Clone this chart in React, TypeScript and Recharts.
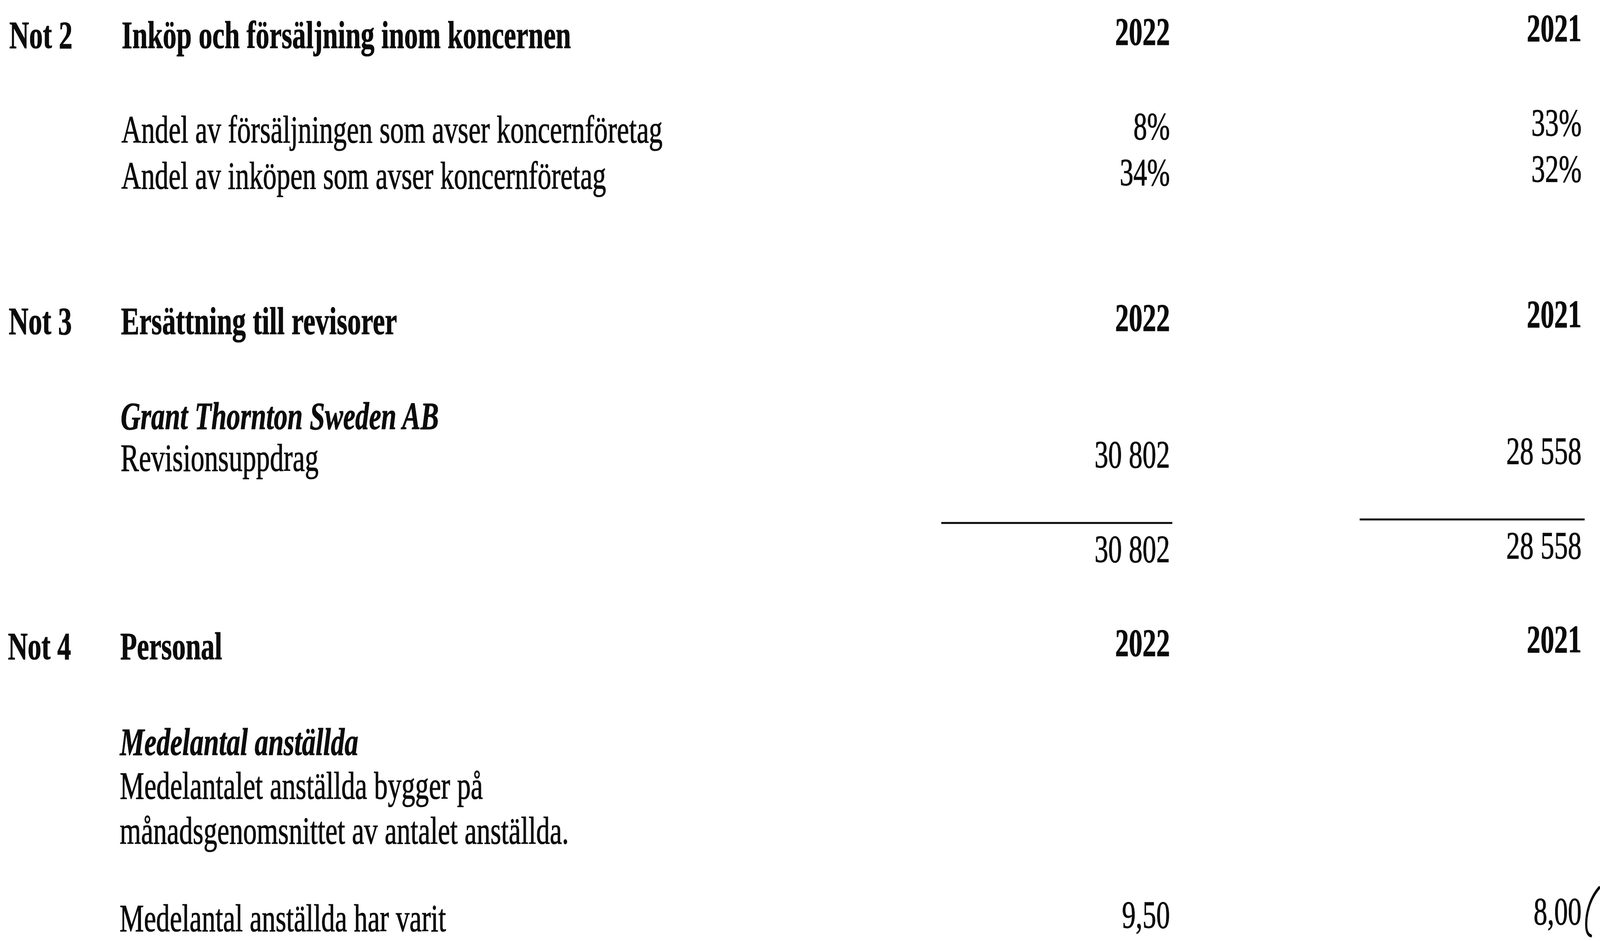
import { ScatterChart, Scatter, XAxis, YAxis, ReferenceLine } from 'recharts';

// page size of the scanned note page
const W = 5837;
const H = 2408;

// headings of the three notes
const noteNumbers = ['Not 2', 'Not 3', 'Not 4'];
const noteTitles = ['Inköp och försäljning inom koncernen', 'Ersättning till revisorer', 'Personal'];
const years = [2022, 2021];

// Not 2 - share of group companies (%)
const shareLabels = ['Andel av försäljningen som avser koncernföretag', 'Andel av inköpen som avser koncernföretag'];
const share2022 = [8, 34];
const share2021 = [33, 32];

// Not 3 - auditor fees (kr)
const auditFirm = ['Grant Thornton Sweden AB'];
const auditLabels = ['Revisionsuppdrag'];
const audit2022 = [30802];
const audit2021 = [28558];

// Not 4 - staff
const staffHeading = ['Medelantal anställda'];
const staffText = ['Medelantalet anställda bygger på', 'månadsgenomsnittet av antalet anställda.'];
const staffLabels = ['Medelantal anställda har varit'];
const staff2022 = [9.5];
const staff2021 = [8.0];

// layout: x in 1/1000 of page width, y in text lines (20 lines per page)
const COL = { note: 5.9, text: 76.1, y2022: 731.2, y2021: 988.5 };
// the scan is a little skewed: value columns sit higher, left columns drift left further down
const LIFT = { note: 0, text: 0, y2022: 0.075, y2021: 0.15 };
const DRIFT = { note: 0.07, text: 0.07, y2022: 0, y2021: 0 };
const RULE = { y2022: [588.3, 732.7], y2021: [849.8, 990.4] };
const LINES = {
  notes: [1.02, 7.1, 14.01],
  share: [3.03, 4.01],
  firm: 9.12,
  audit: 10.01,
  rule: 11.19,
  total: 12.02,
  staffHeading: 16.05,
  staffText: [16.98, 17.93],
  staff: 19.79,
};

const FONT = "'Liberation Serif', 'Times New Roman', serif";
const INK = '#0b0b0b';

const pct = (v: number) => `${v}%`;
const kr = (v: number) => String(v).replace(/\B(?=(\d{3})+(?!\d))/g, ' ');
const dec = (v: number) => v.toFixed(2).replace('.', ',');

type Col = keyof typeof COL;
type Cell = { x: number; y: number; text: string; anchor: string; bold?: boolean; italic?: boolean; check?: boolean };

const cells: Cell[] = [];
const put = (col: Col, line: number, text: string, opts: Partial<Cell> = {}) =>
  cells.push({
    x: COL[col] - DRIFT[col] * line,
    y: line - LIFT[col],
    text,
    anchor: col.startsWith('y') ? 'end' : 'start',
    ...opts,
  });

const yearCols: Col[] = ['y2022', 'y2021'];

noteNumbers.forEach((n, i) => {
  put('note', LINES.notes[i], n, { bold: true });
  put('text', LINES.notes[i], noteTitles[i], { bold: true });
  yearCols.forEach((c, j) => put(c, LINES.notes[i], String(years[j]), { bold: true }));
});

shareLabels.forEach((label, i) => {
  put('text', LINES.share[i], label);
  put('y2022', LINES.share[i], pct(share2022[i]));
  put('y2021', LINES.share[i], pct(share2021[i]));
});

put('text', LINES.firm, auditFirm[0], { bold: true, italic: true });
auditLabels.forEach((label, i) => {
  put('text', LINES.audit, label);
  put('y2022', LINES.audit, kr(audit2022[i]));
  put('y2021', LINES.audit, kr(audit2021[i]));
});
put('y2022', LINES.total, kr(audit2022.reduce((a, b) => a + b, 0)));
put('y2021', LINES.total, kr(audit2021.reduce((a, b) => a + b, 0)));

put('text', LINES.staffHeading, staffHeading[0], { bold: true, italic: true });
staffText.forEach((t, i) => put('text', LINES.staffText[i], t));
staffLabels.forEach((label, i) => {
  put('text', LINES.staff, label);
  put('y2022', LINES.staff, dec(staff2022[i]));
  put('y2021', LINES.staff, dec(staff2021[i]), { check: true });
});

export default function App() {
  // fit the page to the real viewport, keeping the page's proportions per axis
  const vw = typeof window !== 'undefined' ? window.innerWidth : W;
  const vh = typeof window !== 'undefined' ? window.innerHeight : H;
  const sx = vw / W;
  const sy = vh / H;

  const renderCell = (props: any) => {
    const { cx, cy, payload } = props;
    const c = payload as Cell;
    return (
      <g transform={`translate(${cx},${cy}) scale(${sx},${sy})`}>
        <text
          x={0}
          y={0}
          textAnchor={c.anchor as any}
          fontFamily={FONT}
          fontSize={100}
          fontWeight={c.bold ? 'bold' : 'normal'}
          fontStyle={c.italic ? 'italic' : 'normal'}
          fill={INK}
          stroke={INK}
          strokeWidth={1.2}
        >
          {c.text}
        </text>
        {c.check && (
          <path
            d="M 64 -93 C 30 -65, 15 -27, 17 6 C 18 20, 24 28, 34 30"
            fill="none"
            stroke={INK}
            strokeWidth={8}
            strokeLinecap="round"
          />
        )}
      </g>
    );
  };

  return (
    <div style={{ position: 'absolute', left: 0, top: 0, width: vw, height: vh, background: '#fff', overflow: 'hidden' }}>
      <ScatterChart width={vw} height={vh} margin={{ top: 0, right: 0, bottom: 0, left: 0 }}>
        <XAxis type="number" dataKey="x" domain={[0, 1000]} allowDataOverflow hide />
        <YAxis type="number" dataKey="y" domain={[0, 20]} reversed allowDataOverflow hide />
        {yearCols.map((c) => (
          <ReferenceLine
            key={c}
            segment={[
              { x: RULE[c as 'y2022' | 'y2021'][0], y: LINES.rule - LIFT[c] },
              { x: RULE[c as 'y2022' | 'y2021'][1], y: LINES.rule - LIFT[c] },
            ]}
            stroke={INK}
            strokeWidth={5 * sy}
          />
        ))}
        <Scatter data={cells} shape={renderCell} isAnimationActive={false} />
      </ScatterChart>
    </div>
  );
}
